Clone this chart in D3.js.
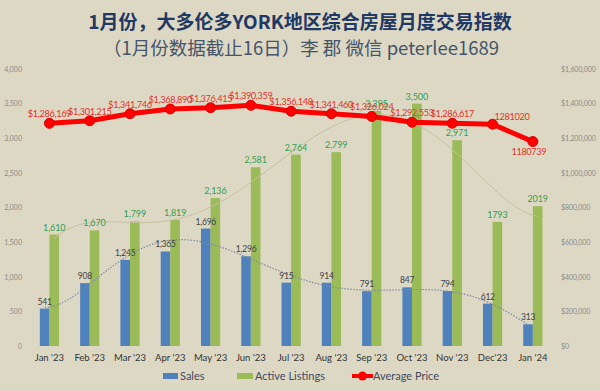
<!DOCTYPE html>
<html><head><meta charset="utf-8">
<script src="https://cdn.jsdelivr.net/npm/d3@7"></script>
<style>
body{margin:0;background:#ddd8c4;}
svg{display:block;}
</style></head>
<body>
<script>
const months = ["Jan '23","Feb '23","Mar '23","Apr '23","May '23","Jun '23","Jul '23","Aug '23","Sep '23","Oct '23","Nov '23","Dec'23","Jan '24"];
const sales = [541,908,1245,1365,1696,1296,915,914,791,847,794,612,313];
const listings = [1610,1670,1799,1819,2136,2581,2764,2799,3395,3500,2971,1793,2019];
const avgPrice = [1286169,1301215,1341746,1368890,1376415,1390359,1356148,1341460,1326024,1292553,1286617,1281020,1180739];
const salesLabels = ["541","908","1,245","1,365","1,696","1,296","915","914","791","847","794","612","313"];
const listingLabels = ["1,610","1,670","1,799","1,819","2,136","2,581","2,764","2,799","3,395","3,500","2,971","1793","2019"];
const priceLabels = ["$1,286,169","$1,301,215","$1,341,746","$1,368,890","$1,376,415","$1,390,359","$1,356,148","$1,341,460","$1,326,024","$1,292,553","$1,286,617","1281020","1180739"];
const leftTicks = [0,500,1000,1500,2000,2500,3000,3500,4000];
const rightTicks = [0,200000,400000,600000,800000,1000000,1200000,1400000,1600000];
const title1 = "1月份，大多伦多YORK地区综合房屋月度交易指数";
const title2 = "（1月份数据截止16日）李 郡 微信 peterlee1689";

const W=600,H=391;
const svg=d3.select("body").append("svg").attr("width",W).attr("height",H);
svg.append("rect").attr("width",W).attr("height",H).attr("fill","#ddd8c4");
const font="Lato, 'Noto Sans CJK SC', sans-serif";
const cjk="'Noto Sans CJK SC', Lato, sans-serif";

const x=d3.scaleBand().domain(months).range([29.3,553]).padding(0);
const yL=d3.scaleLinear().domain([0,4000]).range([346,69]);
const yR=d3.scaleLinear().domain([0,1600000]).range([346,69]);
const bw=9.6;
const cx=m=>x(m)+x.bandwidth()/2;

// title
svg.append("text").attr("x",300).attr("y",29).attr("text-anchor","middle")
  .attr("font-family",cjk).attr("font-weight","bold").attr("font-size",19).attr("fill","#1f3864").text(title1);
svg.append("text").attr("x",301).attr("y",55).attr("text-anchor","middle")
  .attr("font-family",cjk).attr("font-size",18.5).attr("fill","#45546b").text(title2);

// axes
const axL=d3.axisLeft(yL).tickValues(leftTicks).tickSize(0).tickPadding(0).tickFormat(d3.format(","));
const gL=svg.append("g").attr("transform","translate(22,0)").call(axL);
gL.select(".domain").remove();
gL.selectAll("text").attr("font-family",font).attr("font-size",7).attr("fill","#8a8a8a");
const axR=d3.axisRight(yR).tickValues(rightTicks).tickSize(0).tickPadding(0).tickFormat(d=>"$"+d3.format(",")(d));
const gR=svg.append("g").attr("transform","translate(561,0)").call(axR);
gR.select(".domain").remove();
gR.selectAll("text").attr("font-family",font).attr("font-size",7).attr("letter-spacing",-0.1).attr("fill","#8a8a8a");
const axX=d3.axisBottom(x).tickSize(0).tickPadding(0);
const gX=svg.append("g").attr("transform","translate(0,354)").call(axX);
gX.select(".domain").remove();
gX.selectAll("text").attr("font-family",font).attr("font-size",9.5).attr("fill","#333").attr("dy","0.71em");

// bars
svg.append("g").selectAll("rect").data(months).join("rect")
  .attr("x",m=>cx(m)-bw).attr("width",bw)
  .attr("y",(m,i)=>yL(sales[i])).attr("height",(m,i)=>yL(0)-yL(sales[i])).attr("fill","#4f81bd");
svg.append("g").selectAll("rect").data(months).join("rect")
  .attr("x",m=>cx(m)).attr("width",bw)
  .attr("y",(m,i)=>yL(listings[i])).attr("height",(m,i)=>yL(0)-yL(listings[i])).attr("fill","#9bbb59");

// polynomial trendlines (least squares)
function polyfit(ys,order){
  const n=ys.length, xs=ys.map((_,i)=>(i-(n-1)/2)/((n-1)/2));
  const m=order+1;
  const A=Array.from({length:m},()=>new Array(m+1).fill(0));
  for(let k=0;k<n;k++){
    for(let r=0;r<m;r++){
      for(let c=0;c<m;c++) A[r][c]+=Math.pow(xs[k],r+c);
      A[r][m]+=ys[k]*Math.pow(xs[k],r);
    }
  }
  for(let i=0;i<m;i++){
    let p=i; for(let r=i+1;r<m;r++) if(Math.abs(A[r][i])>Math.abs(A[p][i])) p=r;
    [A[i],A[p]]=[A[p],A[i]];
    for(let r=0;r<m;r++){ if(r===i) continue; const f=A[r][i]/A[i][i]; for(let c=i;c<=m;c++) A[r][c]-=f*A[i][c]; }
  }
  const coef=A.map((row,i)=>row[m]/row[i]);
  return t=>{const u=(t-(n-1)/2)/((n-1)/2); return coef.reduce((s,c,i)=>s+c*Math.pow(u,i),0);};
}
const step=x.step();
function trend(ys,xoff,order){
  const f=polyfit(ys,order); const pts=[];
  for(let t=0;t<=ys.length-1+1e-9;t+=0.1) pts.push([x(months[0])+x.bandwidth()/2+xoff+t*step, yL(f(t))]);
  return pts;
}
svg.append("path").attr("d",d3.line()(trend(listings,bw/2,5))).attr("fill","none")
  .attr("stroke","#c6c19f").attr("stroke-width",1);
svg.append("path").attr("d",d3.line()(trend(sales,-bw/2,6))).attr("fill","none")
  .attr("stroke","#7b8ba3").attr("stroke-width",1.2).attr("stroke-dasharray","1.5,1.5");

// bar labels
svg.append("g").selectAll("text").data(months).join("text")
  .attr("x",m=>cx(m)-bw/2).attr("y",(m,i)=>yL(sales[i])-4).attr("text-anchor","middle")
  .attr("font-family",font).attr("font-size",8.5).attr("letter-spacing",-0.2).attr("fill","#3b3f4a").text((m,i)=>salesLabels[i]);
svg.append("g").selectAll("text").data(months).join("text")
  .attr("x",m=>cx(m)+bw/2).attr("y",(m,i)=>yL(listings[i])-4).attr("text-anchor","middle")
  .attr("font-family",font).attr("font-size",9).attr("letter-spacing",-0.1).attr("fill","#2f9e52").text((m,i)=>listingLabels[i]);

// price line
const pts=months.map((m,i)=>[cx(m),yR(avgPrice[i])]);
svg.append("path").attr("d",d3.line()(pts)).attr("fill","none").attr("stroke","#ff0000").attr("stroke-width",5).attr("stroke-linejoin","round");
svg.append("g").selectAll("circle").data(pts).join("circle")
  .attr("cx",d=>d[0]).attr("cy",d=>d[1]).attr("r",5).attr("fill","#ff0000").attr("stroke","#d80000").attr("stroke-width",1);
svg.append("g").selectAll("text").data(months).join("text")
  .attr("x",(m,i)=> i===11? cx(m)+2 : i===12? cx(m)-4 : cx(m))
  .attr("y",(m,i)=> i===12? yR(avgPrice[i])+13 : i===11? yR(avgPrice[i])-4 : yR(avgPrice[i])-6)
  .attr("text-anchor",(m,i)=> i===11?"start":"middle")
  .attr("font-family",font).attr("font-size",9.2).attr("letter-spacing",-0.35).attr("fill","#e0322c").text((m,i)=>priceLabels[i]);

// legend
const lg=svg.append("g").attr("font-family",font).attr("font-size",11);
lg.append("rect").attr("x",163).attr("y",373).attr("width",15).attr("height",6).attr("fill","#4f81bd");
lg.append("text").attr("x",180).attr("y",380).text("Sales").attr("fill","#3f4a5e");
lg.append("rect").attr("x",237).attr("y",373).attr("width",16).attr("height",6).attr("fill","#9bbb59");
lg.append("text").attr("x",255).attr("y",380).text("Active Listings").attr("fill","#3f4a5e");
lg.append("line").attr("x1",352).attr("x2",373).attr("y1",376).attr("y2",376).attr("stroke","#ff0000").attr("stroke-width",4);
lg.append("circle").attr("cx",362.5).attr("cy",376).attr("r",4.5).attr("fill","#ff0000");
lg.append("text").attr("x",373).attr("y",380).text("Average Price").attr("fill","#3f4a5e");
</script>
</body></html>
